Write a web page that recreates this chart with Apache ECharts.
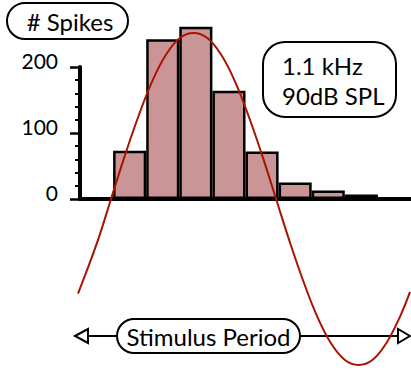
<!DOCTYPE html>
<html>
<head>
<meta charset="utf-8">
<script src="https://cdn.jsdelivr.net/npm/echarts@6/dist/echarts.min.js"></script>
<style>html,body{margin:0;padding:0;background:#fff}#c{width:411px;height:371px}</style>
</head>
<body>
<div id="c"></div>
<script>
// Histogram bins (stimulus-period phase bins) and spike counts
var bins = ['0', '1', '2', '3', '4', '5', '6', '7', '8', '9'];
var spikeCounts = [null, 73, 242, 261, 164, 72, 25, 13, 7, null];
var yTicks = [0, 100, 200];
// Stimulus waveform: [phase in degrees, relative amplitude]
var stimPhase = [-36, -15, 0, 15, 30, 45, 60, 75, 90, 105, 120, 135, 150, 165, 180, 195, 210, 225, 240, 255, 270, 285, 300, 315, 326];
var stimAmp = [-0.57, -0.26, 0, 0.26, 0.5, 0.71, 0.87, 0.97, 1, 0.97, 0.87, 0.71, 0.5, 0.26, 0, -0.26, -0.5, -0.71, -0.87, -0.97, -1, -0.97, -0.87, -0.71, -0.56];
var labelSpikes = '# Spikes';
var labelStim = ['1.1 kHz', '90dB SPL'];
var labelPeriod = 'Stimulus Period';

var FONT = 'Lato, "Open Sans", sans-serif';
var stimData = stimPhase.map(function (p, i) { return [p, stimAmp[i]]; });

var chart = echarts.init(document.getElementById('c'), null, { renderer: 'svg' });
chart.setOption({
  animation: false,
  backgroundColor: '#ffffff',
  grid: [
    { left: 80, top: 67, width: 335, height: 132 },
    { left: 78, top: 33, width: 332, height: 332 }
  ],
  xAxis: [
    {
      gridIndex: 0, type: 'category', data: bins,
      axisLine: { show: true, lineStyle: { color: '#000', width: 4 } },
      axisTick: { show: false }, axisLabel: { show: false }, splitLine: { show: false }
    },
    { gridIndex: 1, type: 'value', min: -36, max: 326, show: false }
  ],
  yAxis: [
    {
      gridIndex: 0, type: 'value', min: yTicks[0], max: yTicks[yTicks.length - 1], interval: 100,
      axisLine: { show: true, lineStyle: { color: '#000', width: 4 } },
      axisTick: { show: true, length: 10, lineStyle: { color: '#000', width: 2.5 } },
      minorTick: { show: true, splitNumber: 5, length: 5, lineStyle: { color: '#000', width: 2 } },
      axisLabel: {
        color: '#000', margin: 22,
        formatter: '{a|{value}}',
        rich: { a: { fontSize: 21, fontFamily: FONT, color: '#000', padding: [0, 0, 14, 0] } }
      },
      splitLine: { show: false }
    },
    { gridIndex: 1, type: 'value', min: -1, max: 1, show: false }
  ],
  series: [
    {
      type: 'bar', xAxisIndex: 0, yAxisIndex: 0, data: spikeCounts,
      barCategoryGap: '0%', clip: false, z: 2,
      itemStyle: { color: '#ca9597', borderColor: '#000', borderWidth: 2.5 }
    },
    {
      type: 'line', xAxisIndex: 1, yAxisIndex: 1, data: stimData,
      smooth: 0.4, showSymbol: false, clip: false, z: 5,
      lineStyle: { color: '#a81400', width: 2 }
    }
  ],
  graphic: [
    { type: 'line', z: 1, shape: { x1: 86, y1: 336, x2: 400, y2: 336 }, style: { stroke: '#000', lineWidth: 2 } },
    { type: 'polygon', z: 1, shape: { points: [[75, 336], [88, 329], [88, 343]] }, style: { fill: '#fff', stroke: '#000', lineWidth: 2 } },
    { type: 'polygon', z: 1, shape: { points: [[410, 336], [398, 329], [398, 343]] }, style: { fill: '#fff', stroke: '#000', lineWidth: 2 } },
    { type: 'rect', z: 10, shape: { x: 117, y: 319, width: 183, height: 34, r: 17 }, style: { fill: '#fff', stroke: '#000', lineWidth: 2 } },
    { type: 'text', z: 11, x: 208.5, y: 336, style: { text: labelPeriod, fill: '#000', font: '24px ' + FONT, align: 'center', verticalAlign: 'middle' } },
    { type: 'rect', z: 10, shape: { x: 7, y: 3, width: 121, height: 36, r: 18 }, style: { fill: '#fff', stroke: '#000', lineWidth: 2 } },
    { type: 'text', z: 11, x: 70, y: 21, style: { text: labelSpikes, fill: '#000', font: '24px ' + FONT, align: 'center', verticalAlign: 'middle' } },
    { type: 'rect', z: 10, shape: { x: 263, y: 42, width: 133, height: 75, r: 22 }, style: { fill: '#fff', stroke: '#000', lineWidth: 2 } },
    { type: 'text', z: 11, x: 282, y: 65, style: { text: labelStim[0], fill: '#000', font: '24px ' + FONT, align: 'left', verticalAlign: 'middle' } },
    { type: 'text', z: 11, x: 282, y: 95, style: { text: labelStim[1], fill: '#000', font: '24px ' + FONT, align: 'left', verticalAlign: 'middle' } }
  ]
});
</script>
</body>
</html>
